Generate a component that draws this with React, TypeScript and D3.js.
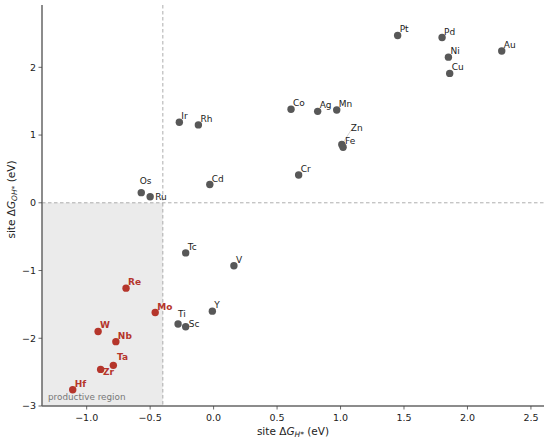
import { scaleLinear } from "d3";

// element labels, ΔG_H* (x) and ΔG_OH* (y) in eV
const elements = ["Os", "Ru", "Ir", "Rh", "Cd", "Pt", "Pd", "Ni", "Au", "Cu", "Co", "Ag", "Mn", "Zn", "Fe", "Cr",
  "Tc", "V", "Y", "Ti", "Sc", "Re", "Mo", "W", "Nb", "Ta", "Zr", "Hf"];
const dGH = [-0.57, -0.50, -0.27, -0.12, -0.03, 1.45, 1.80, 1.85, 2.27, 1.86, 0.61, 0.82, 0.97, 1.01, 1.02, 0.67,
  -0.22, 0.16, -0.01, -0.28, -0.22, -0.69, -0.46, -0.91, -0.77, -0.79, -0.89, -1.11];
const dGOH = [0.15, 0.09, 1.19, 1.15, 0.27, 2.47, 2.44, 2.15, 2.24, 1.91, 1.38, 1.35, 1.37, 0.86, 0.82, 0.41,
  -0.74, -0.93, -1.60, -1.79, -1.83, -1.26, -1.62, -1.90, -2.05, -2.40, -2.46, -2.76];
const productive = ["Re", "Mo", "W", "Nb", "Ta", "Zr", "Hf"];

const xTicks = [-1.0, -0.5, 0.0, 0.5, 1.0, 1.5, 2.0, 2.5];
const yTicks = [-3, -2, -1, 0, 1, 2];
const xThreshold = -0.4;

// label nudges (px) where the default offset would collide
const nudge: Record<string, [number, number, boolean?]> = {
  Os: [-1.5, -8.5],
  Ru: [5, 3.5],
  Zn: [9, -14, true],
  Ti: [0, -7],
  Sc: [3, 0],
  Ta: [3.7, -5],
  Zr: [2.3, 5.5],
};

const W = 550, H = 442;
const m = { left: 42, right: 6, top: 5, bottom: 36 };

const fmt = (v: number, d: number) => (v < 0 ? "\u2212" : "") + Math.abs(v).toFixed(d);

export default function App() {
  const x = scaleLinear().domain([-1.352, 2.603]).range([m.left, W - m.right]);
  const y = scaleLinear().domain([-3, 2.92]).range([H - m.bottom, m.top]);
  const [x0, x1] = x.range();
  const [y0, y1] = y.range();
  const red = "#b5352b";
  const grey = "#585858";
  const font = "DejaVu Sans, sans-serif";

  return (
    <svg width={W} height={H} style={{ position: "absolute", left: 0, top: 0 }} fontFamily={font}>
      <rect width={W} height={H} fill="#fff" />
      <rect x={x0} y={y(0)} width={x(xThreshold) - x0} height={y0 - y(0)} fill="#ebebeb" />
      <line x1={x0} x2={x1} y1={y(0)} y2={y(0)} stroke="#999" strokeWidth={0.8} strokeDasharray="3.5,2.5" />
      <line x1={x(xThreshold)} x2={x(xThreshold)} y1={y1} y2={y0} stroke="#999" strokeWidth={0.8} strokeDasharray="3.5,2.5" />
      <text x={x0 + 6} y={y0 - 6} fontSize={8.8} fill="#777">productive region</text>

      {elements.map((el, i) => {
        const px = x(dGH[i]);
        const py = y(dGOH[i]);
        const isP = productive.includes(el);
        const [dx, dy, conn] = nudge[el] ?? [2, -3];
        return (
          <g key={el}>
            {conn && <line x1={px} y1={py} x2={px + dx} y2={py + dy} stroke="#bbb" strokeWidth={0.6} />}
            <circle cx={px} cy={py} r={3.7} fill={isP ? red : grey} />
            <text x={px + dx} y={py + dy} fontSize={9} fill={isP ? red : "#222"} fontWeight={isP ? "bold" : "normal"}>{el}</text>
          </g>
        );
      })}

      <line x1={x0} x2={x1} y1={y0} y2={y0} stroke="#666" strokeWidth={1.5} />
      <line x1={x0} x2={x0} y1={y1} y2={y0} stroke="#666" strokeWidth={1.5} />
      {xTicks.map((t) => (
        <g key={t} transform={`translate(${x(t)},${y0})`}>
          <line y2={3.5} stroke="#444" strokeWidth={0.8} />
          <text y={15} textAnchor="middle" fontSize={9.5} fill="#222">{fmt(t, 1)}</text>
        </g>
      ))}
      {yTicks.map((t) => (
        <g key={t} transform={`translate(${x0},${y(t)})`}>
          <line x2={-3.5} stroke="#444" strokeWidth={0.8} />
          <text x={-6} dy="0.35em" textAnchor="end" fontSize={9.5} fill="#222">{fmt(t, 0)}</text>
        </g>
      ))}

      <text x={(x0 + x1) / 2} y={H - 7} textAnchor="middle" fontSize={10.5} fill="#222">
        site Δ<tspan fontStyle="italic">G</tspan>
        <tspan fontStyle="italic" fontSize={7.5} dy={2}>H*</tspan>
        <tspan dy={-2}> (eV)</tspan>
      </text>
      <text transform={`translate(15,${(y0 + y1) / 2 - 6}) rotate(-90)`} textAnchor="middle" fontSize={10.5} fill="#222">
        site Δ<tspan fontStyle="italic">G</tspan>
        <tspan fontStyle="italic" fontSize={7.5} dy={2}>OH*</tspan>
        <tspan dy={-2}> (eV)</tspan>
      </text>
    </svg>
  );
}
